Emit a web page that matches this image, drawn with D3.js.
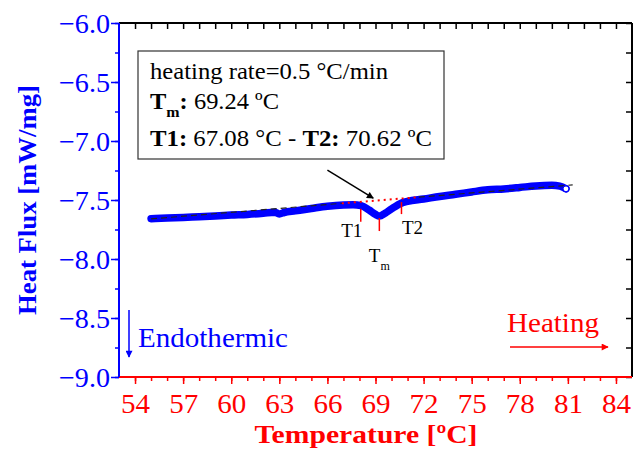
<!DOCTYPE html>
<html>
<head>
<meta charset="utf-8">
<script src="https://cdn.jsdelivr.net/npm/d3@7"></script>
<style>
  body { margin: 0; background: #fff; }
  svg { display: block; font-family: "Liberation Serif", "Times New Roman", serif; }
</style>
</head>
<body>
<svg id="chart" width="641" height="450"></svg>
<script>
// DSC heating scan: temperature (°C) and heat flux (mW/mg)
const temperature = [55, 56, 57, 58, 59, 60, 61, 62, 62.7, 63.0, 63.3, 64, 65, 66, 67, 67.6, 68.1, 68.6, 69.0, 69.24, 69.6, 70.0, 70.6, 71, 72, 73, 74, 75, 76, 77, 78, 79, 80, 80.5, 80.88];
const heatFlux    = [-7.658, -7.652, -7.648, -7.642, -7.636, -7.628, -7.622, -7.612, -7.603, -7.618, -7.606, -7.592, -7.572, -7.553, -7.542, -7.540, -7.548, -7.585, -7.622, -7.636, -7.612, -7.575, -7.527, -7.512, -7.492, -7.470, -7.452, -7.432, -7.414, -7.406, -7.394, -7.381, -7.376, -7.382, -7.405];

// Extrapolated baseline (dashed, black) and the interpolated segment under the peak (dotted, red)
const baselineLeft  = { t: [55, 66.9],   hf: [-7.660, -7.528] };
const baselineMid   = { t: [66.9, 71.7], hf: [-7.528, -7.476] };
const baselineRight = { t: [71.7, 81.3], hf: [-7.476, -7.372] };

// Characteristic temperatures marked below the curve
const markerNames = ["T1", "Tm", "T2"];
const markerTemps = [68.08, 69.24, 70.62];

// Axis ticks
const xMajorTicks = [54, 57, 60, 63, 66, 69, 72, 75, 78, 81, 84];
const xMinorTicks = d3.range(54, 85, 1);
const yMajorTicks = [-9.0, -8.5, -8.0, -7.5, -7.0, -6.5, -6.0];
const yMinorTicks = d3.range(-9, -5.99, 0.25);

const svg = d3.select("#chart");
const plotL = 119, plotR = 632, plotT = 23, plotB = 377;
const x = d3.scaleLinear().domain([53, 85]).range([plotL, plotR]);
const y = d3.scaleLinear().domain([-9, -6]).range([plotB, plotT]);

const BLUE = "#0000ff", RED = "#ff0000";

// stretch a text element to a given advance width
const fit = (sel, w) => sel.attr("textLength", w).attr("lengthAdjust", "spacingAndGlyphs");

const defs = svg.append("defs");
function arrowMarker(id, color) {
  defs.append("marker").attr("id", id).attr("viewBox", "0 0 10 10")
    .attr("refX", 9).attr("refY", 5).attr("markerWidth", 9).attr("markerHeight", 7)
    .attr("markerUnits", "userSpaceOnUse").attr("orient", "auto")
    .append("path").attr("d", "M0,0 L10,5 L0,10 Z").attr("fill", color);
}
arrowMarker("ah-black", "#000");
arrowMarker("ah-blue", BLUE);
arrowMarker("ah-red", RED);

// ---- axes ----
function styleAxis(g, color) {
  g.select(".domain").remove();
  g.selectAll(".tick line").attr("stroke", color).attr("stroke-width", 1.5);
}
// top (black, inward ticks)
svg.append("g").attr("transform", `translate(0,${plotT})`)
  .call(d3.axisTop(x).tickValues(xMinorTicks).tickSize(-6).tickFormat(""))
  .call(g => styleAxis(g, "#000"));
// right (black, inward ticks)
svg.append("g").attr("transform", `translate(${plotR},0)`)
  .call(d3.axisRight(y).tickValues(yMinorTicks).tickSize(-6).tickFormat(""))
  .call(g => styleAxis(g, "#000"));
// bottom minor + major (red, outward)
svg.append("g").attr("transform", `translate(0,${plotB})`)
  .call(d3.axisBottom(x).tickValues(xMinorTicks).tickSize(4).tickFormat(""))
  .call(g => styleAxis(g, RED));
const xAxis = svg.append("g").attr("transform", `translate(0,${plotB})`)
  .call(d3.axisBottom(x).tickValues(xMajorTicks).tickSize(7).tickFormat(d3.format("d")))
  .call(g => styleAxis(g, RED));
xAxis.selectAll(".tick text").attr("y", 36).attr("dy", null)
  .attr("fill", RED).attr("font-size", 28).attr("font-family", "Liberation Serif")
  .call(t => fit(t, 29));
// left minor + major (blue, outward)
svg.append("g").attr("transform", `translate(${plotL},0)`)
  .call(d3.axisLeft(y).tickValues(yMinorTicks).tickSize(4).tickFormat(""))
  .call(g => styleAxis(g, BLUE));
const yAxis = svg.append("g").attr("transform", `translate(${plotL},0)`)
  .call(d3.axisLeft(y).tickValues(yMajorTicks).tickSize(8).tickFormat(d3.format(".1f")))
  .call(g => styleAxis(g, BLUE));
yAxis.selectAll(".tick text").attr("x", -9).attr("dy", "0.33em")
  .attr("fill", BLUE).attr("font-size", 28).attr("font-family", "Liberation Serif")
  .call(t => fit(t, 51));

// frame lines
svg.append("line").attr("x1", plotL).attr("x2", plotR).attr("y1", plotT).attr("y2", plotT).attr("stroke", "#000").attr("stroke-width", 2);
svg.append("line").attr("x1", plotR).attr("x2", plotR).attr("y1", plotT).attr("y2", plotB).attr("stroke", "#000").attr("stroke-width", 2);
svg.append("line").attr("x1", plotL).attr("x2", plotR).attr("y1", plotB).attr("y2", plotB).attr("stroke", RED).attr("stroke-width", 2);
svg.append("line").attr("x1", plotL).attr("x2", plotL).attr("y1", plotT).attr("y2", plotB).attr("stroke", BLUE).attr("stroke-width", 2);

// axis titles
svg.append("text").attr("x", 366).attr("y", 443).attr("text-anchor", "middle")
  .attr("font-size", 26).attr("font-weight", "bold").attr("fill", RED)
  .text("Temperature [ºC]").call(t => fit(t, 223));
svg.append("text").attr("transform", "translate(36,200) rotate(-90)").attr("text-anchor", "middle")
  .attr("font-size", 26).attr("font-weight", "bold").attr("fill", BLUE)
  .text("Heat Flux [mW/mg]").call(t => fit(t, 230));

// ---- data ----
const pts = temperature.map((t, i) => [t, heatFlux[i]]);
const line = d3.line().x(d => x(d[0])).y(d => y(d[1])).curve(d3.curveMonotoneX);
svg.append("path").datum(pts).attr("d", line)
  .attr("fill", "none").attr("stroke", BLUE).attr("stroke-width", 7.5)
  .attr("stroke-linecap", "round").attr("stroke-linejoin", "round");

const segLine = d3.line().x(d => x(d[0])).y(d => y(d[1]));
const seg = s => s.t.map((t, i) => [t, s.hf[i]]);
[baselineLeft, baselineRight].forEach(s => {
  svg.append("path").datum(seg(s)).attr("d", segLine).attr("fill", "none")
    .attr("stroke", "#222").attr("stroke-width", 1.2).attr("stroke-dasharray", "6,4");
});
svg.append("path").datum(seg(baselineMid)).attr("d", segLine).attr("fill", "none")
  .attr("stroke", RED).attr("stroke-width", 2).attr("stroke-dasharray", "2,4");

// end point marker
svg.append("circle").attr("cx", x(temperature[temperature.length - 1]))
  .attr("cy", y(heatFlux[heatFlux.length - 1])).attr("r", 3)
  .attr("fill", "#fff").attr("stroke", BLUE).attr("stroke-width", 1.2);

// temperature markers
const hfAt = d3.scaleLinear().domain(temperature).range(heatFlux);
const markerOffsets = [[3, 16], [2, 15], [-1, 11]];
const labelOffsets = [[-9, 31], [0, 46], [11, 31]];
markerTemps.forEach((t, i) => {
  const cx = x(t), cy = y(hfAt(t));
  svg.append("line").attr("x1", cx).attr("x2", cx)
    .attr("y1", cy + markerOffsets[i][0]).attr("y2", cy + markerOffsets[i][1])
    .attr("stroke", RED).attr("stroke-width", 1.5);
  const lab = svg.append("text").attr("x", cx + labelOffsets[i][0]).attr("y", cy + labelOffsets[i][1])
    .attr("text-anchor", "middle").attr("font-size", 19).attr("fill", "#000");
  const name = markerNames[i];
  if (name === "Tm") {
    lab.append("tspan").text("T");
    lab.append("tspan").attr("font-size", 12).attr("dy", 8).text("m");
  } else {
    lab.text(name);
  }
});

// annotation box
svg.append("rect").attr("x", 138).attr("y", 51).attr("width", 306).attr("height", 108)
  .attr("fill", "#fff").attr("stroke", "#333").attr("stroke-width", 1.2);
const boxText = svg.append("g").attr("font-size", 23).attr("fill", "#000");
boxText.append("text").attr("x", 150).attr("y", 79).text("heating rate=0.5 °C/min")
  .call(t => fit(t, 238));
const l2 = boxText.append("text").attr("x", 150).attr("y", 109);
l2.append("tspan").attr("font-weight", "bold").text("T");
l2.append("tspan").attr("font-weight", "bold").attr("font-size", 15).attr("dy", 8).text("m");
l2.append("tspan").attr("font-weight", "bold").attr("dy", -8).text(":");
l2.append("tspan").text(" 69.24 ºC");
fit(l2, 129);
const l3 = boxText.append("text").attr("x", 150).attr("y", 146);
l3.append("tspan").attr("font-weight", "bold").text("T1:");
l3.append("tspan").text(" 67.08 °C - ");
l3.append("tspan").attr("font-weight", "bold").text("T2:");
l3.append("tspan").text(" 70.62 ºC");
fit(l3, 282);

// pointer from box to the baseline under the peak
svg.append("line").attr("x1", x(66.0)).attr("y1", y(-7.246)).attr("x2", x(68.86)).attr("y2", y(-7.485))
  .attr("stroke", "#000").attr("stroke-width", 1.5).attr("marker-end", "url(#ah-black)");

// direction annotations
svg.append("line").attr("x1", 129).attr("x2", 129).attr("y1", 310).attr("y2", 357)
  .attr("stroke", BLUE).attr("stroke-width", 1.5).attr("marker-end", "url(#ah-blue)");
svg.append("text").attr("x", 138).attr("y", 347).attr("font-size", 28).attr("fill", BLUE)
  .text("Endothermic").call(t => fit(t, 150));
svg.append("line").attr("x1", 510).attr("x2", 608).attr("y1", 347).attr("y2", 347)
  .attr("stroke", RED).attr("stroke-width", 1.5).attr("marker-end", "url(#ah-red)");
svg.append("text").attr("x", 507).attr("y", 332).attr("font-size", 28).attr("fill", RED)
  .text("Heating").call(t => fit(t, 92));
</script>
</body>
</html>
